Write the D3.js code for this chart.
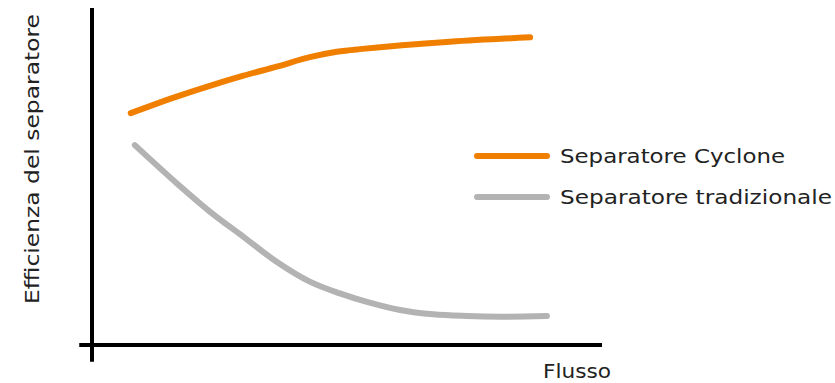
<!DOCTYPE html>
<html><head><meta charset="utf-8">
<script src="https://cdn.jsdelivr.net/npm/d3@7"></script>
<style>body{margin:0;background:#fff}svg{display:block}</style>
</head><body><svg id="c" width="835" height="383"></svg>
<script>
const seriesNames = ["Separatore Cyclone", "Separatore tradizionale"];
const cycloneX = [7.6, 16.6, 23.1, 29.7, 36.2, 42.7, 48.0, 52.5, 70.2, 85.9];
const cycloneY = [68.8, 73.7, 76.9, 79.9, 82.6, 85.4, 87.0, 87.8, 90.0, 91.3];
const tradX = [8.4, 16.6, 23.1, 29.7, 36.2, 42.7, 48.6, 53.9, 60.4, 66.9, 73.5, 80.0, 89.2];
const tradY = [59.3, 48.0, 39.6, 32.1, 24.7, 18.8, 15.3, 12.8, 10.4, 9.1, 8.6, 8.4, 8.6];
const xTitle = "Flusso";
const yTitle = "Efficienza del separatore";
const colors = ["#f07f00", "#b3b3b3"];

const svg = d3.select("#c");
const x = d3.scaleLinear().domain([0, 100]).range([92, 602]);
const y = d3.scaleLinear().domain([0, 100]).range([345, 8]);
const font = "'DejaVu Sans', sans-serif";

// axes
svg.append("line").attr("x1", x(0)).attr("x2", x(0)).attr("y1", y(100)).attr("y2", y(-5))
  .attr("stroke", "#000").attr("stroke-width", 4);
svg.append("line").attr("x1", x(-2.5)).attr("x2", x(100)).attr("y1", y(0)).attr("y2", y(0))
  .attr("stroke", "#000").attr("stroke-width", 4);

const line = d3.line().x(d => x(d[0])).y(d => y(d[1])).curve(d3.curveCatmullRom.alpha(0.5));
const series = [d3.zip(cycloneX, cycloneY), d3.zip(tradX, tradY)];
series.forEach((s, i) => {
  svg.append("path").attr("d", line(s)).attr("fill", "none")
    .attr("stroke", colors[i]).attr("stroke-width", 6).attr("stroke-linecap", "round");
});

// legend
const ly = [156, 197];
const lw = [225, 272];
seriesNames.forEach((n, i) => {
  svg.append("line").attr("x1", 477).attr("x2", 547).attr("y1", ly[i]).attr("y2", ly[i])
    .attr("stroke", colors[i]).attr("stroke-width", 6).attr("stroke-linecap", "round");
  svg.append("text").attr("x", 560).attr("y", ly[i] + 7).text(n)
    .attr("font-family", font).attr("font-size", 19).attr("fill", "#222")
    .attr("textLength", lw[i]).attr("lengthAdjust", "spacingAndGlyphs");
});

svg.append("text").attr("x", 543).attr("y", 378).text(xTitle)
  .attr("font-family", font).attr("font-size", 19).attr("fill", "#222")
  .attr("textLength", 68).attr("lengthAdjust", "spacingAndGlyphs");
svg.append("text").attr("transform", "translate(39,304) rotate(-90)")
  .text(yTitle).attr("font-family", font).attr("font-size", 19).attr("fill", "#222")
  .attr("textLength", 290).attr("lengthAdjust", "spacingAndGlyphs");
</script></body></html>
